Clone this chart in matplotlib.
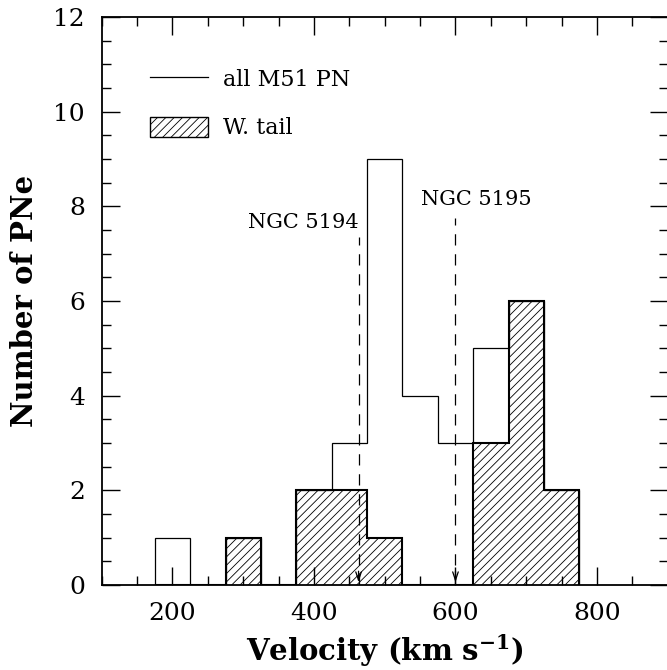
import numpy as np
import matplotlib
matplotlib.use('Agg')
import matplotlib.pyplot as plt
from matplotlib.lines import Line2D
from matplotlib.patches import Patch
from matplotlib.ticker import MultipleLocator

# velocity bins (km/s), 50 km/s wide
bin_edges = [175, 225, 275, 325, 375, 425, 475, 525, 575, 625, 675, 725, 775]
all_pn = [1, 0, 1, 0, 2, 3, 9, 4, 3, 5, 6, 2]
w_tail = [0, 0, 1, 0, 2, 2, 1, 0, 0, 3, 6, 2]

# systemic velocities of the two galaxies
gal_names = ['NGC 5194', 'NGC 5195']
gal_vel = [463, 600]
gal_line_top = [7.35, 7.75]

plt.rcParams['font.family'] = 'DejaVu Serif'
plt.rcParams['mathtext.fontset'] = 'dejavuserif'
plt.rcParams['hatch.linewidth'] = 0.6

fig = plt.figure(figsize=(6.67, 6.70), dpi=100)
ax = fig.add_axes([0.1525, 0.1269, 0.8486, 0.8478])

ax.stairs(w_tail, bin_edges, fill=True, facecolor='white', edgecolor='black',
          hatch='////', linewidth=1.5, zorder=1)
ax.stairs(all_pn, bin_edges, color='black', linewidth=0.9, zorder=2)

for name, v, top in zip(gal_names, gal_vel, gal_line_top):
    ln, = ax.plot([v, v], [0, top], color='black', linewidth=0.9)
    ln.set_dashes((9, 7))
    ax.annotate('', xy=(v, 0), xytext=(v, 0.35),
                arrowprops=dict(arrowstyle='->,head_length=0.6,head_width=0.2',
                                color='black', lw=0.9))

ax.text(gal_vel[0], 7.45, gal_names[0], ha='right', va='bottom', fontsize=15)
ax.text(gal_vel[1] + 30, 7.95, gal_names[1], ha='center', va='bottom', fontsize=15)

ax.set_xlim(100, 900)
ax.set_ylim(0, 12)
ax.xaxis.set_major_locator(MultipleLocator(200))
ax.xaxis.set_minor_locator(MultipleLocator(50))
ax.yaxis.set_major_locator(MultipleLocator(2))
ax.yaxis.set_minor_locator(MultipleLocator(0.5))
ax.tick_params(which='both', direction='in', top=True, right=True, width=1.0)
ax.tick_params(which='major', length=13, labelsize=18, pad=12)
ax.tick_params(which='minor', length=6.5)
for s in ax.spines.values():
    s.set_linewidth(1.3)

ax.set_xlabel(r'Velocity (km s$^{\mathbf{-1}}$)', fontsize=21, fontweight='bold')
ax.set_ylabel('Number of PNe', fontsize=21, fontweight='bold')
ax.xaxis.set_label_coords(0.5, -0.083)
ax.yaxis.set_label_coords(-0.11, 0.5)

handles = [Line2D([], [], color='black', linewidth=0.9),
           Patch(facecolor='white', edgecolor='black', hatch='////', linewidth=1.0)]
ax.legend(handles, ['all M51 PN', 'W. tail'], loc='upper left',
          bbox_to_anchor=(0.086, 0.91), frameon=False, fontsize=16,
          borderpad=0, borderaxespad=0, handlelength=2.57, handleheight=1.05,
          handletextpad=0.68, labelspacing=1.15)

plt.savefig('out.png', dpi=100)
